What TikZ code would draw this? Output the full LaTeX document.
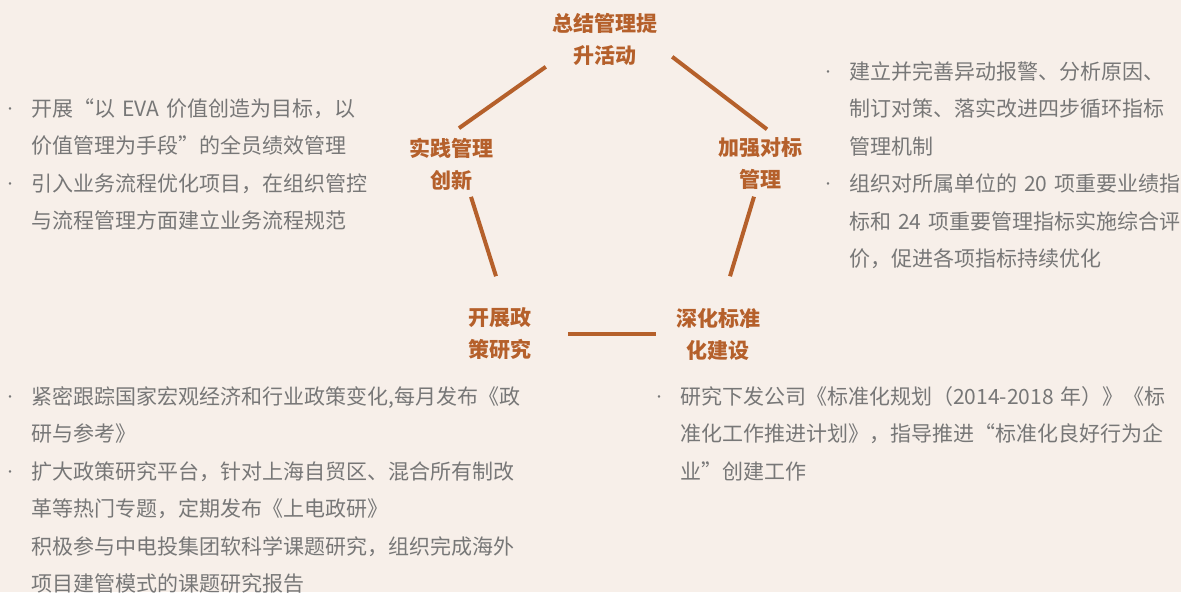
\documentclass[tikz,border=0pt]{standalone}
\usepackage{fontspec}
\setmainfont{Noto Sans CJK SC}
\definecolor{bg}{HTML}{F7EFE9}
\definecolor{rust}{HTML}{B5602B}
\definecolor{txt}{HTML}{777777}
\newcommand\itm{\leavevmode\llap{\raisebox{3pt}{\fontsize{12}{12}\selectfont ·}\hspace{15pt}}}
\begin{document}
\begin{tikzpicture}[x=1pt,y=-1pt,
    title/.style={font=\fontsize{21}{32}\selectfont\bfseries, text=rust, align=center, inner sep=0pt},
    body/.style={font=\fontsize{21}{37.5}\selectfont, text=txt, text width=#1, align=left, inner sep=0pt, anchor=base west},
    link/.style={draw=rust, line width=4pt}]
    \fill[bg] (0,0) rectangle (1181,592);
    \useasboundingbox (0,0) rectangle (1181,592);
    % five topics round the ring
    \node[title] (sum) at (605,39) {总结管理提\\升活动};
    \node[title] (prac) at (451,164) {实践管理\\创新};
    \node[title] (bench) at (760,164) {加强对标\\管理};
    \node[title] (pol) at (500,334) {开展政\\策研究};
    \node[title] (std) at (718,334) {深化标准\\化建设};
    \draw[link] ([shift={(-6.5,1.5)}]sum.south west) -- ([shift={(8,-9.5)}]prac.north);
    \draw[link] ([shift={(14.5,-8.5)}]sum.south east) -- ([shift={(7,-8.5)}]bench.north);
    \draw[link] ([shift={(-6,6.5)}]bench.south) -- ([shift={(12,-31.5)}]std.north);
    \draw[link] ([xshift=-20pt]std.west) -- ([xshift=36.5pt]pol.east);
    \draw[link] ([shift={(-4,-31.5)}]pol.north) -- ([shift={(20,6.5)}]prac.south);
    % notes
    \node[body=400pt] (pracnote) at (31,116) {\itm 开展“以 EVA 价值创造为目标，以\\
        价值管理为手段”的全员绩效管理\\
        \itm 引入业务流程优化项目，在组织管控\\
        与流程管理方面建立业务流程规范};
    \node[body=400pt] (benchnote) at (849,79) {\itm 建立并完善异动报警、分析原因、\\
        制订对策、落实改进四步循环指标\\
        管理机制\\
        \itm 组织对所属单位的 20 项重要业绩指\\
        标和 24 项重要管理指标实施综合评\\
        价，促进各项指标持续优化};
    \node[body=560pt] (polnote) at (31,404) {\itm 紧密跟踪国家宏观经济和行业政策变化,每月发布《政\\
        研与参考》\\
        \itm 扩大政策研究平台，针对上海自贸区、混合所有制改\\
        革等热门专题，定期发布《上电政研》\\
        积极参与中电投集团软科学课题研究，组织完成海外\\
        项目建管模式的课题研究报告};
    \node[body=560pt] (stdnote) at (680,404) {\itm 研究下发公司《标准化规划（2014-2018 年）》《标\\
        准化工作推进计划》，指导推进“标准化良好行为企\\
        业”创建工作};
\end{tikzpicture}
\end{document}
